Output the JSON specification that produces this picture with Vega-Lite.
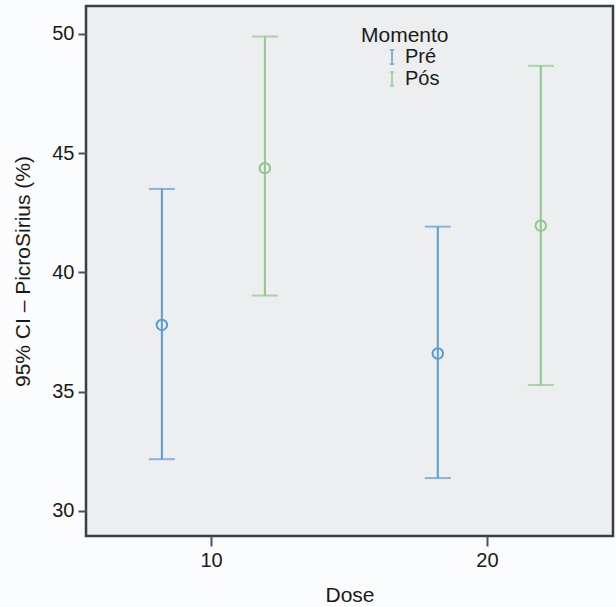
{
  "$schema": "https://vega.github.io/schema/vega-lite/v6.json",
  "autosize": "none",
  "width": 527,
  "height": 530,
  "padding": {"left": 86, "top": 6, "right": 3, "bottom": 71},
  "background": "#fbfcfd",
  "config": {
    "view": {"fill": "#eceef0", "stroke": "#3a3f44", "strokeWidth": 2.5},
    "font": "Liberation Sans",
    "axis": {
      "grid": false,
      "domain": false,
      "tickColor": "#4a5560",
      "tickWidth": 2,
      "labelFontSize": 20,
      "labelColor": "#1a1a1a",
      "titleFontSize": 21,
      "titleFontWeight": "normal",
      "titleColor": "#1a1a1a"
    }
  },
  "data": {
    "values": [
      {"Dose": 10, "Momento": "Pré", "mean": 37.8, "lo": 32.17, "hi": 43.5},
      {"Dose": 10, "Momento": "Pós", "mean": 44.37, "lo": 39.03, "hi": 49.89},
      {"Dose": 20, "Momento": "Pré", "mean": 36.6, "lo": 31.38, "hi": 41.92},
      {"Dose": 20, "Momento": "Pós", "mean": 41.96, "lo": 35.28, "hi": 48.66}
    ]
  },
  "encoding": {
    "x": {
      "field": "Dose", "type": "ordinal",
      "scale": {"type": "band", "paddingInner": 0.2, "paddingOuter": 0.055},
      "axis": {"tickSize": 10, "labelPadding": 4, "labelAngle": 0, "title": "Dose", "titlePadding": 14}
    },
    "xOffset": {
      "field": "Momento", "type": "nominal",
      "scale": {"type": "point", "domain": ["Pré", "Pós"], "range": [60.7, 163.7], "padding": 0}
    },
    "color": {
      "field": "Momento", "type": "nominal",
      "scale": {"domain": ["Pré", "Pós"], "range": ["#5b9bd5", "#8ec88a"]},
      "legend": {
        "orient": "none",
        "legendX": 275,
        "legendY": 19,
        "title": "Momento",
        "titleFontSize": 21,
        "titleFontWeight": "normal",
        "titleColor": "#1a1a1a",
        "titlePadding": 1,
        "labelFontSize": 20,
        "labelColor": "#1a1a1a",
        "padding": 0,
        "rowPadding": 0,
        "symbolType": "M-0.3,-1L0.3,-1M0,-1L0,1M-0.3,1L0.3,1",
        "symbolSize": 196,
        "symbolStrokeWidth": 2,
        "symbolFillColor": "transparent",
        "symbolOffset": 21,
        "labelOffset": 3
      }
    }
  },
  "layer": [
    {
      "mark": {"type": "rule", "strokeWidth": 2},
      "encoding": {
        "y": {
          "field": "lo", "type": "quantitative",
          "scale": {"domain": [28.95, 51.17], "nice": false, "zero": false},
          "axis": {"values": [30, 35, 40, 45, 50], "tickSize": 8, "labelPadding": 4, "title": "95% CI – PicroSirius (%)", "titlePadding": 18}
        },
        "y2": {"field": "hi"}
      }
    },
    {
      "mark": {"type": "tick", "orient": "horizontal", "size": 26, "thickness": 2},
      "encoding": {"y": {"field": "hi", "type": "quantitative"}}
    },
    {
      "mark": {"type": "tick", "orient": "horizontal", "size": 26, "thickness": 2},
      "encoding": {"y": {"field": "lo", "type": "quantitative"}}
    },
    {
      "mark": {"type": "point", "shape": "circle", "filled": false, "size": 110, "strokeWidth": 2, "opacity": 1},
      "encoding": {"y": {"field": "mean", "type": "quantitative"}}
    }
  ]
}
